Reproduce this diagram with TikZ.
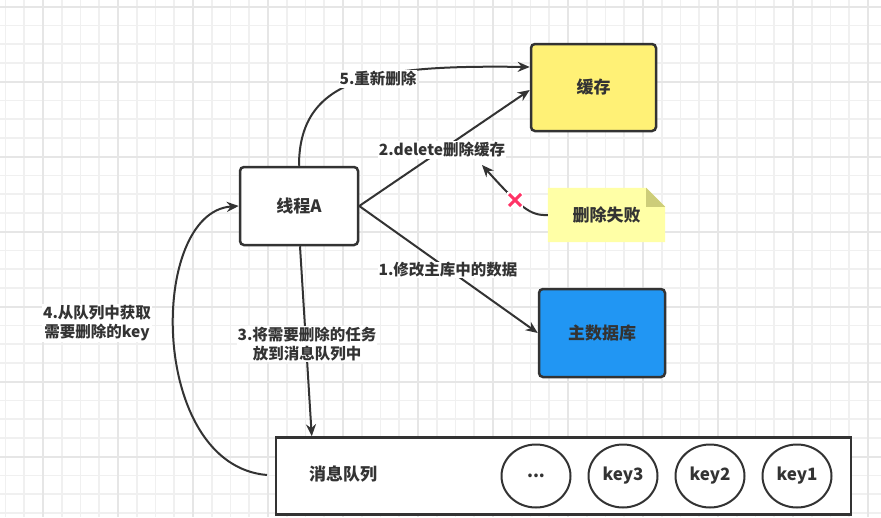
\documentclass[tikz,border=0pt]{standalone}
\usepackage{fontspec}
\setmainfont{Noto Sans CJK SC}
\usetikzlibrary{arrows.meta,calc}
\definecolor{ink}{HTML}{333333}
\definecolor{gridminor}{HTML}{F0F0F0}
\definecolor{gridmajor}{HTML}{E6E6E6}
\definecolor{cacheyellow}{HTML}{FFF176}
\definecolor{dbblue}{HTML}{2196F3}
\definecolor{notefill}{HTML}{FFFFA6}
\definecolor{notefold}{HTML}{CDCD79}
\definecolor{failred}{HTML}{FF3366}
\tikzset{
  boxfont/.style={font=\bfseries\fontsize{17}{20}\selectfont, text=ink},
  lblfont/.style={font=\bfseries\fontsize{15.5}{19}\selectfont, text=ink},
  procbox/.style={boxfont, draw=ink, line width=2.5pt, rounded corners=4pt, inner sep=0pt},
  keynode/.style={boxfont, draw=ink, line width=2pt, ellipse, minimum width=69pt, minimum height=63pt, inner sep=0pt, fill=white},
  conn/.style={draw=ink, line width=2pt, -{Stealth[length=12pt,width=10pt]}},
  lbl/.style={lblfont, fill=white, inner sep=1pt, align=center},
}
\usetikzlibrary{shapes.geometric}
\begin{document}
\begin{tikzpicture}[x=1pt,y=-1pt]
\useasboundingbox (0,0) rectangle (881,517);
\fill[white] (0,0) rectangle (881,517);
% grid
\foreach \i in {0,...,47} {
  \draw[gridminor, line width=1.6pt] ({5.5+18.75*\i},0) -- ({5.5+18.75*\i},517);
}
\foreach \j in {0,...,27} {
  \draw[gridminor, line width=1.6pt] (0,{6.7+18.75*\j}) -- (881,{6.7+18.75*\j});
}
\foreach \i in {0,...,11} {
  \draw[gridmajor, line width=1.6pt] ({43+75*\i},0) -- ({43+75*\i},517);
}
\foreach \j in {0,...,6} {
  \draw[gridmajor, line width=1.6pt] (0,{6.7+75*\j}) -- (881,{6.7+75*\j});
}

% nodes
\node[procbox, fill=cacheyellow, minimum width=125pt, minimum height=87pt] (cache) at (593.5,87.5) {缓存};
\node[procbox, fill=white, minimum width=118pt, minimum height=78pt] (thread) at (299,206) {线程A};
\node[procbox, fill=dbblue, minimum width=126pt, minimum height=88pt] (db) at (602,333) {主数据库};

% note
\node[minimum width=117pt, minimum height=54pt, inner sep=0pt] (note) at (606.5,215) {};
\fill[notefill] (note.north west) -- ($(note.north east)+(-19,0)$) -- ($(note.north east)+(0,19)$) -- (note.south east) -- (note.south west) -- cycle;
\fill[notefold] ($(note.north east)+(-19,0)$) -- ($(note.north east)+(0,19)$) -- ($(note.north east)+(-19,19)$) -- cycle;
\node[boxfont] (notetext) at (note.center) {删除失败};

% queue
\node[draw=ink, line width=2.5pt, fill=white, minimum width=575pt, minimum height=77pt, inner sep=0pt] (queue) at (563.5,476) {};
\node[boxfont] (queuetext) at (343,474) {消息队列};
\node[keynode] (kdots) at (536,476) {...};
\node[keynode] (k3) at (623,476) {key3};
\node[keynode] (k2) at (710,476) {key2};
\node[keynode] (k1) at (797,476) {key1};

% connectors
\draw[conn] (thread.north) .. controls (299,75) and (380,65) .. ($(cache.west)+(0,-20.5)$);
\node[lbl] (l5) at (378,79) {5.重新删除};

\draw[conn] (thread.east) -- ($(cache.west)+(0,2.5)$);
\node[lbl] (l2) at (442,150) {2.delete删除缓存};

\draw[conn] (thread.east) -- (db.west);
\node[lbl] (l1) at (448,270) {1.修改主库中的数据};

\draw[conn] ($(thread.south)+(1,0)$) -- ($(queue.north west)+(37,0)$);
\node[lbl] (l3) at (307,344) {3.将需要删除的任务\\放到消息队列中};

\coordinate (qout) at (267,475);
\draw[conn] (qout) .. controls (148,465) and (148,212) .. (thread.west);
\node[lbl] (l4) at (97,323) {4.从队列中获取\\需要删除的key};

% failed arrow
\draw[conn] (note.west) .. controls (530,216) and (520,207) .. (482,165);
\node[fill=white, minimum size=16pt, inner sep=0pt] (xmark) at (515,200) {};
\draw[failred, line width=3pt] ($(xmark.center)+(-6,-6)$) -- ($(xmark.center)+(6,6)$);
\draw[failred, line width=3pt] ($(xmark.center)+(-6,6)$) -- ($(xmark.center)+(6,-6)$);
\end{tikzpicture}
\end{document}
